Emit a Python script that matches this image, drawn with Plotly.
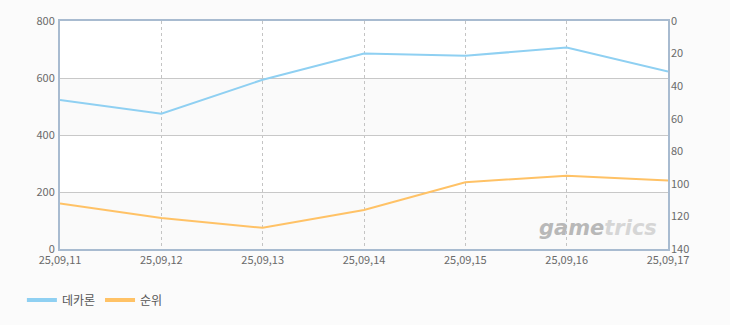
import plotly.graph_objects as go

dates = ["25,09,11", "25,09,12", "25,09,13", "25,09,14", "25,09,15", "25,09,16", "25,09,17"]
dekaron = [523, 475, 594, 686, 678, 707, 623]
rank = [112, 121, 127, 116, 99, 95, 98]
left_ticks = [0, 200, 400, 600, 800]
right_ticks = [0, 20, 40, 60, 80, 100, 120, 140]

FONT = "Noto Sans CJK KR, DejaVu Sans, sans-serif"
TICKC = "#6a6a6a"
BLUE = "#8fd0f2"
ORANGE = "#ffc266"

fig = go.Figure()
fig.add_trace(go.Scatter(x=dates, y=dekaron, name="데카론", mode="lines",
                         line=dict(color=BLUE, width=2), yaxis="y",
                         legendgroup="a", showlegend=False))
fig.add_trace(go.Scatter(x=dates, y=rank, name="순위", mode="lines",
                         line=dict(color=ORANGE, width=2), yaxis="y2",
                         legendgroup="b", showlegend=False))
# legend entries with thicker swatches
fig.add_trace(go.Scatter(x=[None], y=[None], name="데카론", mode="lines",
                         line=dict(color=BLUE, width=4), legendgroup="a"))
fig.add_trace(go.Scatter(x=[None], y=[None], name="순위", mode="lines",
                         line=dict(color=ORANGE, width=4), legendgroup="b"))

shapes = []
for lo, hi in [(400, 600), (0, 200)]:
    shapes.append(dict(type="rect", xref="paper", yref="y", x0=0, x1=1, y0=lo, y1=hi,
                       fillcolor="#fafafa", line=dict(width=0), layer="below"))

fig.update_layout(
    width=730, height=325,
    margin=dict(l=60, r=62, t=17, b=76),
    paper_bgcolor="#fbfbfb",
    plot_bgcolor="#ffffff",
    font=dict(family=FONT, size=11, color=TICKC),
    shapes=shapes,
    showlegend=True,
    legend=dict(orientation="h", x=0.03, y=0.077, xanchor="left", yanchor="middle",
                xref="container", yref="container",
                font=dict(size=12, color="#555555"), itemwidth=30,
                bgcolor="rgba(0,0,0,0)"),
    xaxis=dict(type="category", range=[0, 6], showgrid=True, gridcolor="#c4c4c4",
               griddash="3px,3px", gridwidth=1, showline=True, linecolor="#a8bbd0",
               linewidth=2, mirror=True, ticks="", tickfont=dict(size=11, color=TICKC),
               zeroline=False),
    yaxis=dict(range=[0, 800], tickvals=left_ticks, showgrid=True, gridcolor="#c8c8c8",
               gridwidth=1, showline=True, linecolor="#a8bbd0", linewidth=2,
               mirror=True, ticks="", zeroline=False, ticklabelstandoff=1,
               tickfont=dict(size=11, color=TICKC)),
    yaxis2=dict(range=[140, 0], tickvals=right_ticks, overlaying="y", side="right",
                showgrid=False, ticks="", zeroline=False, showline=False,
                ticklabelstandoff=2, tickfont=dict(size=11, color=TICKC)),
    annotations=[dict(xref="paper", yref="paper", x=0.985, y=0.03, xanchor="right",
                      yanchor="bottom", showarrow=False,
                      text="<b><i><span style='color:#b8b8b8'>game</span>"
                           "<span style='color:#d6d6d6'>trics</span></i></b>",
                      font=dict(size=21, family="DejaVu Sans, sans-serif"))],
)

fig.write_html("out.html")
